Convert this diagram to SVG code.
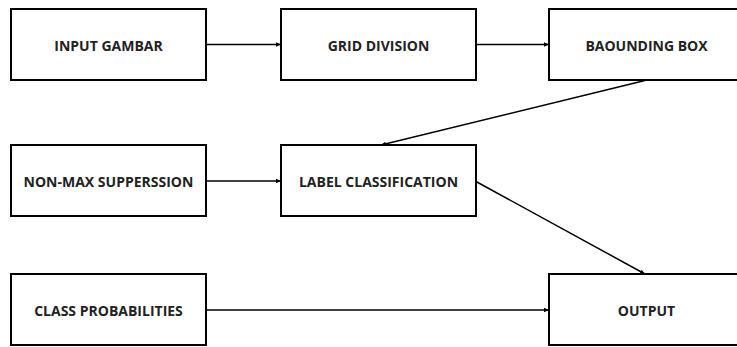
<svg xmlns="http://www.w3.org/2000/svg" width="737" height="347" viewBox="0 0 737 347">
<style>
.box{fill:#fff;stroke:#000;stroke-width:2}
.lbl{font-family:"Open Sans","Liberation Sans",sans-serif;font-weight:bold;font-size:14px;fill:#222;text-anchor:middle;dominant-baseline:central}
.con{stroke:#000;stroke-width:1.5;fill:none;marker-end:url(#ah)}
</style>
<defs>
<marker id="ah" markerWidth="6" markerHeight="6" refX="5" refY="3" orient="auto" markerUnits="userSpaceOnUse">
<path d="M0,0.8 L5,3 L0,5.2 Z" fill="#000"/>
</marker>
</defs>
<rect width="737" height="347" fill="#fff"/>
<g id="connectors">
<line class="con" x1="207" y1="44.5" x2="281" y2="44.5"/>
<line class="con" x1="477" y1="44.5" x2="549" y2="44.5"/>
<line class="con" x1="647" y1="80" x2="381" y2="145"/>
<line class="con" x1="207" y1="181" x2="281" y2="181"/>
<line class="con" x1="476" y1="181.5" x2="645" y2="274"/>
<line class="con" x1="207" y1="310" x2="549" y2="310"/>
</g>
<g id="input-gambar"><rect class="box" x="11" y="9" width="195" height="71"/><text class="lbl" x="108.5" y="45">INPUT GAMBAR</text></g>
<g id="grid-division"><rect class="box" x="281" y="9" width="195" height="71"/><text class="lbl" x="378.5" y="45">GRID DIVISION</text></g>
<g id="baounding-box"><rect class="box" x="549" y="9" width="195" height="71"/><text class="lbl" x="646.5" y="45">BAOUNDING BOX</text></g>
<g id="non-max"><rect class="box" x="11" y="145" width="195" height="71"/><text class="lbl" x="108.5" y="181">NON-MAX SUPPERSSION</text></g>
<g id="label-classification"><rect class="box" x="281" y="145" width="195" height="71"/><text class="lbl" x="378.5" y="181">LABEL CLASSIFICATION</text></g>
<g id="class-probabilities"><rect class="box" x="11" y="274" width="195" height="71"/><text class="lbl" x="108.5" y="310">CLASS PROBABILITIES</text></g>
<g id="output"><rect class="box" x="549" y="274" width="195" height="71"/><text class="lbl" x="646.5" y="310">OUTPUT</text></g>
</svg>
